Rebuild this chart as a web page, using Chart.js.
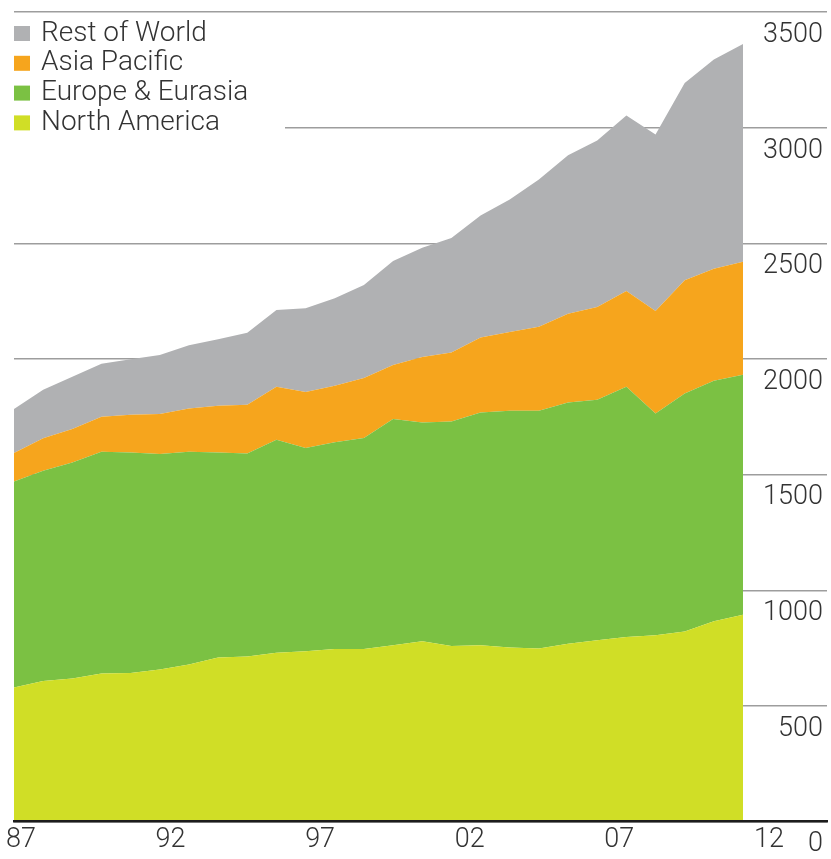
<!DOCTYPE html>
<html>
<head>
<meta charset="utf-8">
<script src="https://cdn.jsdelivr.net/npm/chart.js@4.4.1/dist/chart.umd.min.js"></script>
<style>
  html, body { margin: 0; padding: 0; background: #fff; }
  #wrap { width: 831px; height: 859px; }
</style>
</head>
<body>
<div id="wrap"><canvas id="chart"></canvas></div>
<script>
const years = [1987, 1988, 1989, 1990, 1991, 1992, 1993, 1994, 1995, 1996, 1997, 1998, 1999,
	2000, 2001, 2002, 2003, 2004, 2005, 2006, 2007, 2008, 2009, 2010, 2011, 2012]
const tickYears = [1987, 1992, 1997, 2002, 2007, 2012]
const tickLabels = ['87', '92', '97', '02', '07', '12']

const northAmerica = [579, 608, 618, 640, 642, 657, 679, 709, 714, 730, 736, 746, 746,
	762, 779, 759, 762, 752, 748, 769, 784, 798, 805, 822, 866, 894]
const europeEurasia = [891, 909, 935, 959, 954, 932, 920, 887, 878, 921, 879, 894, 912,
	979, 947, 971, 1007, 1024, 1028, 1043, 1040, 1082, 960, 1029, 1040, 1038]
const asiaPacific = [124, 140, 144, 151, 163, 173, 187, 202, 210, 229, 242, 244, 260,
	233, 283, 298, 324, 341, 364, 384, 401, 414, 443, 490, 485, 489]
const restOfWorld = [190, 210, 226, 230, 240, 255, 274, 288, 312, 332, 363, 379, 402,
	450, 472, 496, 528, 573, 637, 685, 720, 759, 763, 853, 904, 941]

const FONT = 'Roboto'
const TEXT = '#333333'

function series(label, values, color, fill) {
	return {
		label: label,
		data: values.map((v, i) => ({ x: years[i], y: v })),
		backgroundColor: color,
		borderWidth: 0,
		pointRadius: 0,
		tension: 0,
		fill: fill
	}
}

// legend sits on a white box in the top left corner, over the gridlines
const cornerLegend = {
	id: 'cornerLegend',
	afterDraw(chart) {
		const ctx = chart.ctx
		ctx.save()
		ctx.fillStyle = '#ffffff'
		ctx.fillRect(0, 15, 285, 125)
		ctx.font = '300 28px ' + FONT
		ctx.textBaseline = 'alphabetic'
		chart.data.datasets.slice().reverse().forEach((ds, k) => {
			const y = 26 + k * 29.8
			ctx.fillStyle = ds.backgroundColor
			ctx.fillRect(14, y, 16, 15)
			ctx.fillStyle = TEXT
			ctx.fillText(ds.label, 41, y + 14.5)
		})
		ctx.restore()
	}
}

Chart.defaults.font.family = FONT
Chart.defaults.font.weight = '300'
Chart.defaults.color = TEXT

new Chart(document.getElementById('chart'), {
	type: 'line',
	data: {
		datasets: [
			series('North America', northAmerica, '#d0de26', 'origin'),
			series('Europe & Eurasia', europeEurasia, '#7bc143', '-1'),
			series('Asia Pacific', asiaPacific, '#f6a51d', '-1'),
			series('Rest of World', restOfWorld, '#b0b1b3', '-1')
		]
	},
	options: {
		responsive: true,
		maintainAspectRatio: false,
		animation: false,
		layout: { padding: { left: 14, top: 10.7, right: 0, bottom: 0 } },
		plugins: {
			legend: { display: false },
			tooltip: { enabled: false }
		},
		scales: {
			x: {
				type: 'linear',
				display: false,
				min: 1987,
				max: 2014.88
			},
			x2: {
				type: 'linear',
				position: 'bottom',
				min: 1986.77,
				max: 2013.94,
				afterFit: s => { s.height = 37.5 },
				afterBuildTicks: s => { s.ticks = tickYears.map(v => ({ value: v })) },
				grid: { display: true, drawOnChartArea: false, drawTicks: false },
				border: { display: true, color: '#1c1c1c', width: 2.5, z: 1 },
				ticks: {
					autoSkip: false,
					maxRotation: 0,
					padding: 3,
					font: { size: 27 },
					callback: v => tickLabels[tickYears.indexOf(v)]
				}
			},
			y: {
				position: 'right',
				stacked: true,
				min: 0,
				max: 3500,
				afterFit: s => { s.width = 4 },
				border: { display: false },
				grid: { color: '#9d9d9d', lineWidth: 1.5, drawTicks: false },
				ticks: {
					stepSize: 500,
					mirror: true,
					padding: -4,
					labelOffset: 23,
					font: { size: 27 },
					callback: v => String(v)
				}
			}
		}
	},
	plugins: [cornerLegend]
})
</script>
</body>
</html>
